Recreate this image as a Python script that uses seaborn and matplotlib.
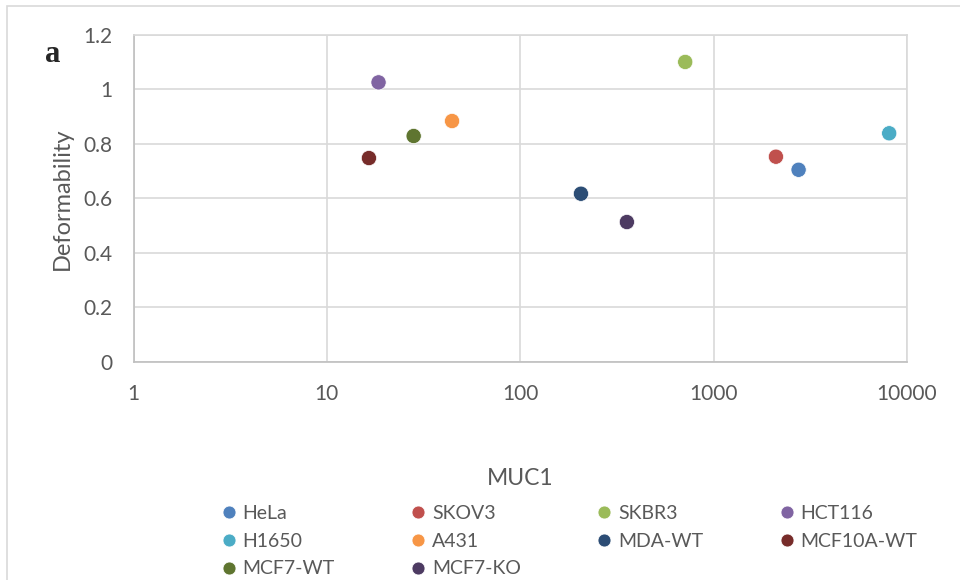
import numpy as np
import pandas as pd
import matplotlib
matplotlib.use("Agg")
import matplotlib.pyplot as plt
import seaborn as sns
from matplotlib.patches import Rectangle

# data
cells = ["HeLa", "SKOV3", "SKBR3", "HCT116", "H1650",
         "A431", "MDA-WT", "MCF10A-WT", "MCF7-WT", "MCF7-KO"]
muc1 = [2750, 2100, 713, 18.5, 8090, 44.4, 206, 16.5, 28.1, 356]
deform = [0.705, 0.753, 1.101, 1.026, 0.839, 0.884, 0.617, 0.748, 0.829, 0.513]
colors = ["#4F81BD", "#C0504D", "#9BBB59", "#8064A2", "#4BACC6",
          "#F79646", "#2C4D75", "#772C2A", "#5F7530", "#4D3B62"]
y_ticks = [0, 0.2, 0.4, 0.6, 0.8, 1, 1.2]
y_tick_labels = ["0", "0.2", "0.4", "0.6", "0.8", "1", "1.2"]
x_ticks = [1, 10, 100, 1000, 10000]
x_tick_labels = ["1", "10", "100", "1000", "10000"]

df = pd.DataFrame({"cell": cells, "MUC1": muc1, "Deformability": deform})

sns.set_style("white")
plt.rcParams["font.family"] = ["Lato", "DejaVu Sans"]

fig = plt.figure(figsize=(9.6, 5.8), dpi=100)
ax = fig.add_axes([133.5 / 960, 1 - 361.7 / 580, (907 - 133.5) / 960, (361.7 - 35) / 580])

grid_col = "#D9D9D9"
text_col = "#595959"

sns.scatterplot(data=df, x="MUC1", y="Deformability", hue="cell",
                palette=colors, hue_order=cells, s=120,
                edgecolor="white", linewidth=0.5, ax=ax, zorder=3)

ax.set_xscale("log")
ax.set_xlim(1, 10000)
ax.set_ylim(0, 1.2)
ax.set_xticks(x_ticks)
ax.set_xticklabels(x_tick_labels)
ax.set_yticks(y_ticks)
ax.set_yticklabels(y_tick_labels)
ax.minorticks_off()
ax.grid(True, color=grid_col, linewidth=1.2)
ax.set_axisbelow(True)
for side in ["top", "right"]:
    ax.spines[side].set_color(grid_col)
    ax.spines[side].set_linewidth(1.2)
for side in ["left", "bottom"]:
    ax.spines[side].set_color("#BFBFBF")
    ax.spines[side].set_linewidth(1.2)
ax.tick_params(axis="both", length=0, labelsize=15, labelcolor=text_col)
ax.tick_params(axis="x", pad=16)
ax.tick_params(axis="y", pad=15)

ax.set_xlabel("MUC1", fontsize=16.5, color=text_col, labelpad=46)
ax.set_ylabel("Deformability", fontsize=17, color=text_col, labelpad=8)

# legend is filled column by column, so reorder to read row by row like the original
handles, labels = ax.get_legend_handles_labels()
order = [0, 4, 8, 1, 5, 9, 2, 6, 3, 7]
ax.legend([handles[i] for i in order], [labels[i] for i in order], ncol=4,
          loc="upper left", bbox_to_anchor=(221 / 960, 1 - 505 / 580),
          bbox_transform=fig.transFigure,
          frameon=False, fontsize=14, labelcolor=text_col,
          columnspacing=3.9, handlelength=0.8, handletextpad=0.3,
          labelspacing=0.55, markerscale=0.85, borderpad=0, borderaxespad=0)

fig.text(53 / 960, 1 - 55 / 580, "a", fontsize=22, fontweight="bold",
         family="Liberation Serif", ha="center", va="center")

fig.patches.append(Rectangle((7 / 960, -0.1), 1.2, 1 - 6 / 580 + 0.1,
                             transform=fig.transFigure, fill=False,
                             edgecolor="#D9D9D9", linewidth=1.2))

fig.savefig("out.png", dpi=100)
